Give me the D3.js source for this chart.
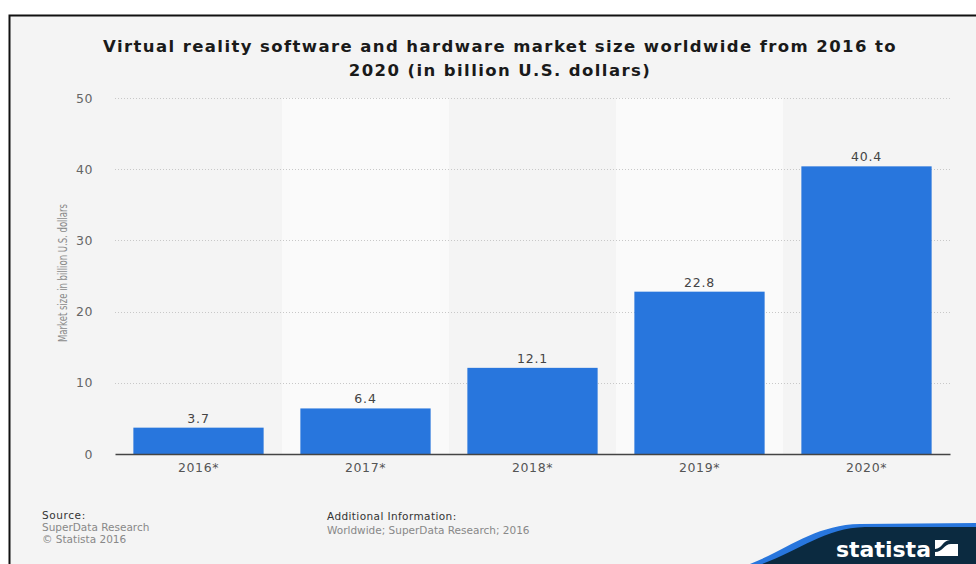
<!DOCTYPE html>
<html>
<head>
<meta charset="utf-8">
<script src="https://cdn.jsdelivr.net/npm/d3@7"></script>
<style>
  html, body { margin: 0; padding: 0; background: #fff; }
  svg { display: block; }
</style>
</head>
<body>
<div id="chart"></div>
<script>
// data
const years = ["2016*", "2017*", "2018*", "2019*", "2020*"]
const marketSize = [3.7, 6.4, 12.1, 22.8, 40.4]
const yTicks = [0, 10, 20, 30, 40, 50]

const titleLines = [
  "Virtual reality software and hardware market size worldwide from 2016 to",
  "2020 (in billion U.S. dollars)"
]
const yTitle = "Market size in billion U.S. dollars"
const sourceLines = ["SuperData Research", "\u00a9 Statista 2016"]
const infoLines = ["Worldwide; SuperData Research; 2016"]

const width = 976
const height = 564
const margin = { top: 98, right: 26, bottom: 110, left: 115 }

const svg = d3.select("#chart").append("svg")
  .attr("width", width)
  .attr("height", height)
  .attr("font-family", "'DejaVu Sans', sans-serif")

// card background + frame (left and top edges only visible)
svg.append("rect")
  .attr("x", 9).attr("y", 15)
  .attr("width", width).attr("height", height)
  .attr("fill", "#f4f4f4")
svg.append("path")
  .attr("d", `M9.5,${height} V15.5 H${width}`)
  .attr("fill", "none")
  .attr("stroke", "#111")
  .attr("stroke-width", 2)

// title
svg.append("g")
  .selectAll("text")
  .data(titleLines)
  .join("text")
  .attr("x", 500)
  .attr("y", (d, i) => 52 + i * 24)
  .attr("text-anchor", "middle")
  .attr("font-size", 16.5)
  .attr("font-weight", "bold")
  .attr("letter-spacing", 1.4)
  .attr("fill", "#1a1a1a")
  .text(d => d)

const x = d3.scaleBand()
  .domain(years)
  .range([margin.left, width - margin.right])
  .paddingInner(0.22)
  .paddingOuter(0.11)

const y = d3.scaleLinear()
  .domain([0, 50])
  .range([height - margin.bottom, margin.top])

// alternating column bands
const colW = (width - margin.right - margin.left) / years.length
svg.append("g")
  .selectAll("rect")
  .data(years)
  .join("rect")
  .attr("x", (d, i) => margin.left + i * colW)
  .attr("y", y(50))
  .attr("width", colW)
  .attr("height", y(0) - y(50))
  .attr("fill", (d, i) => i % 2 === 1 ? "#fafafa" : "none")

// grid lines
svg.append("g")
  .selectAll("line")
  .data(yTicks.filter(t => t > 0))
  .join("line")
  .attr("x1", margin.left)
  .attr("x2", width - margin.right)
  .attr("y1", d => Math.round(y(d)) + 0.5)
  .attr("y2", d => Math.round(y(d)) + 0.5)
  .attr("stroke", "#c8c8c8")
  .attr("stroke-dasharray", "1,2")

// y axis (labels only)
const yAxis = svg.append("g")
  .attr("transform", `translate(${margin.left - 22},0)`)
  .call(d3.axisLeft(y).tickValues(yTicks).tickSize(0).tickPadding(0))
yAxis.select(".domain").remove()
yAxis.selectAll("text")
  .attr("font-family", "'DejaVu Sans', sans-serif")
  .attr("font-size", 12.5)
  .attr("letter-spacing", 0.5)
  .attr("fill", "#666")

// y axis title
svg.append("text")
  .attr("transform", `translate(67,273) rotate(-90)`)
  .attr("text-anchor", "middle")
  .attr("font-family", "'Liberation Sans Narrow', 'DejaVu Sans Condensed', sans-serif")
  .attr("font-size", 12)
  .attr("textLength", 138)
  .attr("lengthAdjust", "spacingAndGlyphs")
  .attr("fill", "#8a8a8a")
  .text(yTitle)

// bars
svg.append("g")
  .selectAll("rect")
  .data(marketSize)
  .join("rect")
  .attr("x", (d, i) => x(years[i]))
  .attr("y", d => y(d))
  .attr("width", x.bandwidth())
  .attr("height", d => y(0) - y(d))
  .attr("fill", "#2876dd")

// value labels
svg.append("g")
  .selectAll("text")
  .data(marketSize)
  .join("text")
  .attr("x", (d, i) => x(years[i]) + x.bandwidth() / 2)
  .attr("y", d => y(d) - 5)
  .attr("text-anchor", "middle")
  .attr("font-size", 12.5)
  .attr("letter-spacing", 0.8)
  .attr("fill", "#444")
  .text(d => d3.format(".1f")(d))

// x axis
const xAxis = svg.append("g")
  .attr("transform", `translate(0,${y(0)})`)
  .call(d3.axisBottom(x).tickSize(0).tickPadding(9))
xAxis.select(".domain")
  .attr("stroke", "#444")
  .attr("stroke-width", 1.3)
xAxis.selectAll("text")
  .attr("font-family", "'DejaVu Sans', sans-serif")
  .attr("font-size", 12.5)
  .attr("letter-spacing", 0.6)
  .attr("fill", "#555")

// footer
const foot = svg.append("g").attr("font-size", 10.5)
foot.append("text").attr("x", 42).attr("y", 519).attr("fill", "#333").attr("letter-spacing", 0.6).text("Source:")
foot.selectAll(".src")
  .data(sourceLines)
  .join("text")
  .attr("class", "src")
  .attr("x", 42)
  .attr("y", (d, i) => 531 + i * 12)
  .attr("fill", "#888")
  .text(d => d)
foot.append("text").attr("x", 327).attr("y", 520).attr("fill", "#333").attr("letter-spacing", 0.4).text("Additional Information:")
foot.selectAll(".info")
  .data(infoLines)
  .join("text")
  .attr("class", "info")
  .attr("x", 327)
  .attr("y", 534)
  .attr("fill", "#888")
  .text(d => d)

// statista brand corner
svg.append("path")
  .attr("d", `M750,${height} C790,548 815,525 860,524 L${width},523 L${width},${height} Z`)
  .attr("fill", "#2876dd")
svg.append("path")
  .attr("d", `M762,${height} C800,550 825,528 865,527 L${width},527 L${width},${height} Z`)
  .attr("fill", "#0b2a40")
svg.append("text")
  .attr("x", 836)
  .attr("y", 557)
  .attr("font-size", 22)
  .attr("font-weight", "bold")
  .attr("fill", "#fff")
  .text("statista")
const logo = svg.append("g").attr("transform", "translate(935,540)")
logo.append("rect").attr("width", 23).attr("height", 16).attr("fill", "#fff")
logo.append("path")
  .attr("d", "M0,12 C8,12 9,4 16,4 L23,4 L23,0 L15,0 C8,0 7,9 0,9 Z")
  .attr("fill", "#0b2a40")
</script>
</body>
</html>
